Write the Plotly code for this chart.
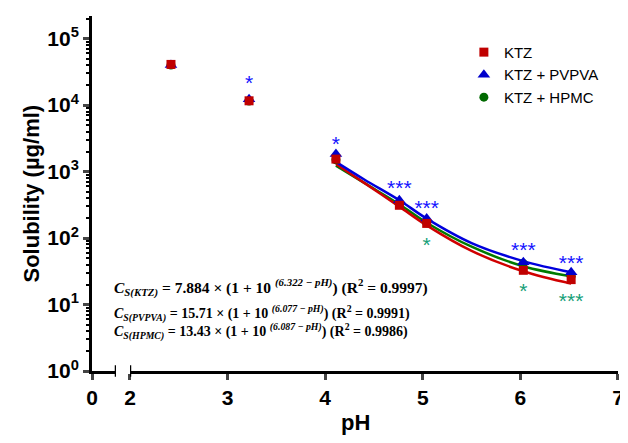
import plotly.graph_objects as go

# measured points (pH, solubility ug/ml)
ph_pts = [2.42, 3.22, 4.11, 4.76, 5.04, 6.03, 6.52]
ktz = [40900, 11600, 1540, 311, 166, 32.7, 23.7]
ktz_pvpva = [40000, 12200, 1830, 370, 196, 43.3, 30.5]
ktz_hpmc = [40000, 11500, 1500, 322, 170, 41.3, 26.6]

# fitted curves
ph_fit = [4.11, 4.4, 4.76, 5.04, 5.5, 6.03, 6.52]
fit_ktz = [1300, 675, 297, 155, 64, 31.6, 20.6]
fit_pvpva = [1400, 760, 370, 196, 84, 45, 30.5]
fit_hpmc = [1230, 675, 322, 170, 74, 37.7, 26.6]

# significance marks
star_blue_ph = [3.22, 4.11, 4.76, 5.04, 6.03, 6.52]
star_blue_y = [20200, 2450, 540, 270, 62, 40]
star_blue_txt = ['*', '*', '***', '***', '***', '***']
star_green_ph = [5.04, 6.03, 6.52]
star_green_y = [75, 15, 10.5]
star_green_txt = ['*', '*', '***']

equations = [
    '<i>C</i><sub><i>S(KTZ)</i></sub> = 7.884 × (1 + 10 <sup><i>(6.322 − pH)</i></sup>) (R<sup>2</sup> = 0.9997)',
    '<i>C</i><sub><i>S(PVPVA)</i></sub> = 15.71 × (1 + 10 <sup><i>(6.077 − pH)</i></sup>) (R<sup>2</sup> = 0.9991)',
    '<i>C</i><sub><i>S(HPMC)</i></sub> = 13.43 × (1 + 10 <sup><i>(6.087 − pH)</i></sup>) (R<sup>2</sup> = 0.9986)',
]

red = '#C00000'
blue = '#0000CC'
green = '#006A00'
star_blue = '#1414FF'
star_green = '#17A078'

fig = go.Figure()

# fitted lines
fig.add_trace(go.Scatter(x=ph_fit, y=fit_hpmc, xaxis='x2', mode='lines', line=dict(color='#007A00', width=2.5, shape='spline'), showlegend=False))
fig.add_trace(go.Scatter(x=ph_fit, y=fit_ktz, xaxis='x2', mode='lines', line=dict(color='#D00000', width=2.5, shape='spline'), showlegend=False))
fig.add_trace(go.Scatter(x=ph_fit, y=fit_pvpva, xaxis='x2', mode='lines', line=dict(color='#0000DD', width=2.5, shape='spline'), showlegend=False))

# points
fig.add_trace(go.Scatter(x=ph_pts, y=ktz_hpmc, xaxis='x2', mode='markers', name='KTZ + HPMC',
                         marker=dict(symbol='circle', size=9, color=green), legendrank=3))
fig.add_trace(go.Scatter(x=ph_pts, y=ktz_pvpva, xaxis='x2', mode='markers', name='KTZ + PVPVA',
                         marker=dict(symbol='triangle-up', size=11, color=blue), legendrank=2))
fig.add_trace(go.Scatter(x=ph_pts, y=ktz, xaxis='x2', mode='markers', name='KTZ',
                         marker=dict(symbol='square', size=9, color=red), legendrank=1))

# stars
fig.add_trace(go.Scatter(x=star_blue_ph, y=star_blue_y, xaxis='x2', mode='text', text=star_blue_txt,
                         textfont=dict(family='Arial', size=21, color=star_blue), showlegend=False))
fig.add_trace(go.Scatter(x=star_green_ph, y=star_green_y, xaxis='x2', mode='text', text=star_green_txt,
                         textfont=dict(family='Arial', size=21, color=star_green), showlegend=False))

# equations
eq_y = [0.234, 0.163, 0.110]
eq_size = [15.5, 14, 14]
for txt, yy, sz in zip(equations, eq_y, eq_size):
    fig.add_annotation(text='<b>' + txt + '</b>', xref='paper', yref='paper', x=0.038, y=yy,
                       xanchor='left', yanchor='middle', showarrow=False,
                       font=dict(family='Liberation Serif, Times New Roman, serif', size=sz, color='black'))

fig.add_annotation(text='<b>pH</b>', xref='paper', yref='paper', x=0.5, y=0, yshift=-51,
                   xanchor='center', yanchor='middle', showarrow=False,
                   font=dict(family='Arial', size=22, color='black'))

fig.add_annotation(text='<b>Solubility (µg/ml)</b>', xref='paper', yref='paper', x=0, xshift=-61, y=0.5,
                   xanchor='center', yanchor='middle', textangle=-90, showarrow=False,
                   font=dict(family='Arial', size=22, color='black'))

# axis break bars
for xr, xv in [('x', 0.25), ('x2', 2)]:
    fig.add_shape(type='line', xref=xr, yref='y domain', x0=xv, x1=xv, y0=-0.016, y1=0.016,
                  line=dict(color='black', width=2.5))

minor_vals = [m * 10 ** e for e in range(0, 6) for m in range(2, 10)]

# page body has an 8px margin, so the figure is a bit smaller than the window
axis_font = dict(family='Arial', size=21, color='black')
fig.update_layout(
    width=620, height=427,
    margin=dict(l=84, r=10, t=8, b=64),
    plot_bgcolor='white', paper_bgcolor='white',
    font=dict(family='Arial', color='black'),
    xaxis=dict(domain=[0, 0.0456], range=[0, 0.25], tickvals=[0], ticktext=['<b>0</b>'],
               ticks='outside', ticklen=6, tickwidth=2.5, showline=True, linewidth=3, linecolor='black',
               showgrid=False, zeroline=False, tickfont=axis_font, anchor='y', automargin=False),
    xaxis2=dict(domain=[0.0722, 1.0], range=[2, 7], tickvals=[2, 3, 4, 5, 6, 7],
                ticktext=['<b>%d</b>' % v for v in [2, 3, 4, 5, 6, 7]], ticklabeloverflow='allow',
                ticks='outside', ticklen=6, tickwidth=2.5, showline=True, linewidth=3, linecolor='black',
                showgrid=False, zeroline=False, tickfont=axis_font, anchor='y', automargin=False),
    yaxis=dict(type='log', range=[0, 5.34], tickvals=[1, 10, 100, 1000, 1e4, 1e5],
               ticktext=['<b>10<sup>%d</sup></b>' % e for e in range(6)],
               ticks='outside', ticklen=6, tickwidth=2.5, showline=True, linewidth=3, linecolor='black',
               showgrid=False, zeroline=False, tickfont=axis_font, automargin=False,
               minor=dict(tickvals=minor_vals, ticks='outside', ticklen=3.5, tickwidth=2, tickcolor='black', showgrid=False)),
    legend=dict(x=0.707, y=0.944, xanchor='left', yanchor='top', bgcolor='rgba(0,0,0,0)',
                font=dict(family='Arial', size=15, color='black'), tracegroupgap=0),
)

fig.write_html('out.html')
